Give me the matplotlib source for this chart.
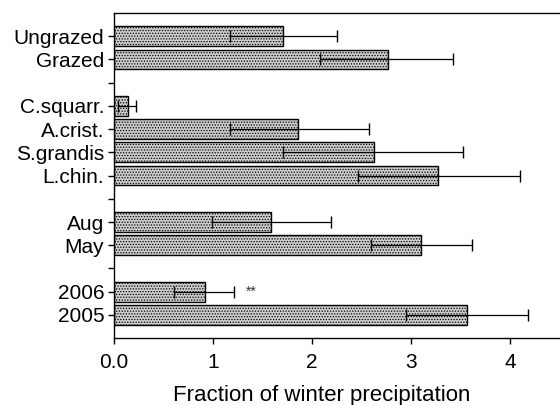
import matplotlib
matplotlib.use("Agg")
import matplotlib.pyplot as plt
import numpy as np

plt.rcParams['font.family'] = ['Liberation Sans', 'DejaVu Sans']
plt.rcParams['hatch.color'] = '#7a7a7a'
plt.rcParams['hatch.linewidth'] = 0.6

labels = ["Ungrazed", "Grazed", "", "C.squarr.", "A.crist.", "S.grandis", "L.chin.",
          "", "Aug", "May", "", "2006", "2005"]
positions = [0, 1, 3, 4, 5, 6, 8, 9, 11, 12]
bar_labels = ["Ungrazed", "Grazed", "C.squarr.", "A.crist.", "S.grandis", "L.chin.",
              "Aug", "May", "2006", "2005"]
values = [1.71, 2.76, 0.14, 1.86, 2.62, 3.27, 1.58, 3.10, 0.92, 3.56]
err_low = [1.17, 2.08, 0.04, 1.17, 1.71, 2.46, 0.99, 2.59, 0.61, 2.95]
err_high = [2.25, 3.42, 0.22, 2.57, 3.52, 4.10, 2.19, 3.61, 1.21, 4.18]

fig = plt.figure(figsize=(5.6, 4.05), dpi=100)
ax = fig.add_axes([0.2036, 0.165, 0.7964, 0.803])

vals = np.array(values)
xerr = np.array([vals - np.array(err_low), np.array(err_high) - vals])
ax.barh(positions, vals, height=0.85, color='#cccccc', edgecolor='black',
        linewidth=1.0, hatch='......', zorder=2)
ax.errorbar(vals, positions, xerr=xerr, fmt='none', ecolor='black',
            elinewidth=0.9, capsize=4, capthick=1.0, zorder=3)

ax.text(1.38, 11, "**", ha='center', va='center', fontsize=10, color='#333333')

ax.set_xlim(0, 4.5)
ax.set_ylim(13, -1)
ax.set_yticks(range(13))
ax.set_yticklabels(labels, fontsize=15)
ax.set_xticks([0, 1, 2, 3, 4])
ax.set_xticklabels(["0.0", "1", "2", "3", "4"], fontsize=15)
ax.set_xlabel("Fraction of winter precipitation", fontsize=16)
ax.xaxis.set_label_coords(0.466, -0.145)
ax.spines['right'].set_visible(False)
for s in ['left', 'bottom', 'top']:
    ax.spines[s].set_linewidth(1.0)
ax.tick_params(axis='x', direction='out', length=4, width=1.0, pad=7)
ax.tick_params(axis='y', direction='out', length=4, width=1.0, pad=3)

fig.savefig("out.png", dpi=100)
